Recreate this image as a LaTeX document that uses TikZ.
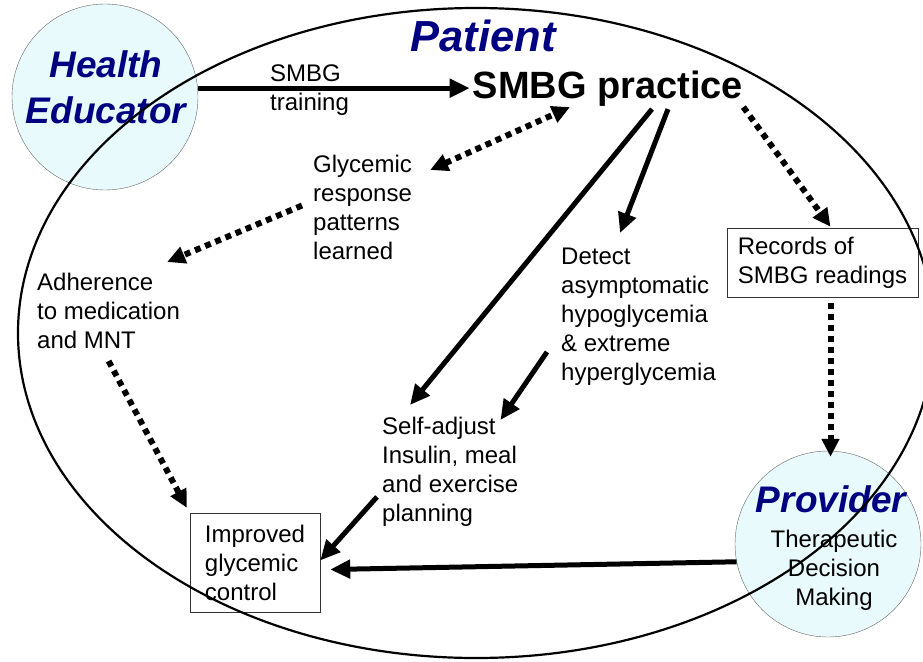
\documentclass[tikz,border=0pt]{standalone}
\usepackage{fontspec}
\setmainfont{Liberation Sans}
\usepackage{tikz}
\usetikzlibrary{arrows.meta}
\definecolor{navyname}{RGB}{0,0,128}
\definecolor{bubblefill}{RGB}{232,250,252}

\begin{document}
\begin{tikzpicture}[x=1pt, y=-1pt,
    txt/.style={inner sep=0, align=left, font=\fontsize{24}{29}\selectfont},
    bigname/.style={inner sep=0, align=center, text=navyname, font=\fontsize{37}{46}\selectfont\bfseries\itshape},
    bubble/.style={circle, draw=black!60, fill=bubblefill, minimum size=186, inner sep=0},
    boxed/.style={draw=black!80, inner sep=0, align=left, font=\fontsize{24}{29}\selectfont},
    solidarrow/.style={->, >={Triangle[length=20pt,width=18pt]}, line width=5pt},
    dotarrow/.style={>={Triangle[length=18pt,width=17pt]}, line width=6pt, dash pattern=on 6pt off 5pt}]
    \useasboundingbox (0,0) rectangle (923,661);
    % Actors
    \node[bubble] (educator) at (105,97) {};
    \node[bubble] (provider) at (828,544) {};
    \node[bigname, anchor=north] (educatorname) at (106,50) {Health\\Educator};
    \node[bigname, anchor=north] (providername) at (831,485) {Provider};
    \node[txt, align=center, anchor=north] (decision) at (834,530) {Therapeutic\\Decision\\Making};
    % Patient side
    \node[inner sep=0, text=navyname, font=\fontsize{43.5}{52}\selectfont\bfseries\itshape, anchor=base] (patient) at (483,52) {Patient};
    \node[inner sep=3, font=\fontsize{38}{46}\selectfont\bfseries, anchor=base] (practice) at (608,98) {SMBG practice};
    \node[txt, anchor=north west] (training) at (270,65) {SMBG\\training};
    \node[txt, anchor=north west] (glycemic) at (313,155) {Glycemic\\response\\patterns\\learned};
    \node[txt, anchor=north west] (adherence) at (37,273) {Adherence\\to medication\\and MNT};
    \node[txt, anchor=north west] (detect) at (561,248) {Detect\\asymptomatic\\hypoglycemia\\\& extreme\\hyperglycemia};
    \node[txt, anchor=north west] (selfadjust) at (382,417) {Self-adjust\\Insulin, meal\\and exercise\\planning};
    \node[boxed, minimum width=130, minimum height=99] (improved) at (255,562.5) {Improved\\glycemic\\control};
    \node[boxed, minimum width=191, minimum height=69] (records) at (822.5,262.5) {Records of\\SMBG readings};
    % Solid arrows
    \draw[solidarrow] (practice.west -| educator.east) -- (practice.west);
    \draw[solidarrow] ([xshift=44]practice.south) -- ([shift={(28,-12)}]selfadjust.north west);
    \draw[solidarrow] ([xshift=60]practice.south) -- ([shift={(59,-15)}]detect.north west);
    \draw[solidarrow] ([shift={(-14,35)}]detect.west) -- ([shift={(-18,3)}]selfadjust.north east);
    \draw[solidarrow] ([shift={(-5,25)}]selfadjust.west) -- ([shift={(0,-2)}]improved.east);
    \draw[solidarrow] (provider.191) -- ([shift={(10,7)}]improved.east);
    % Dotted arrows
    \draw[dotarrow, <->] ([shift={(18,15)}]glycemic.north east) -- ([shift={(-38,-2)}]practice.south);
    \draw[dotarrow, ->] ([shift={(-11,-2)}]glycemic.west) -- ([shift={(-13,-11)}]adherence.north east);
    \draw[dotarrow, ->] ([shift={(0,12)}]adherence.south) -- ([shift={(-3,-5)}]improved.north west);
    \draw[dotarrow, ->] ([shift={(-3,-2)}]practice.south east) -- ([shift={(8,-1)}]records.north);
    \draw[dotarrow, ->] ([shift={(8,6)}]records.south) -- ([shift={(8,6)}]records.south |- provider.north);
    % Patient boundary
    \draw[line width=2.2pt] (476,333) ellipse [x radius=458, y radius=325];
\end{tikzpicture}
\end{document}
